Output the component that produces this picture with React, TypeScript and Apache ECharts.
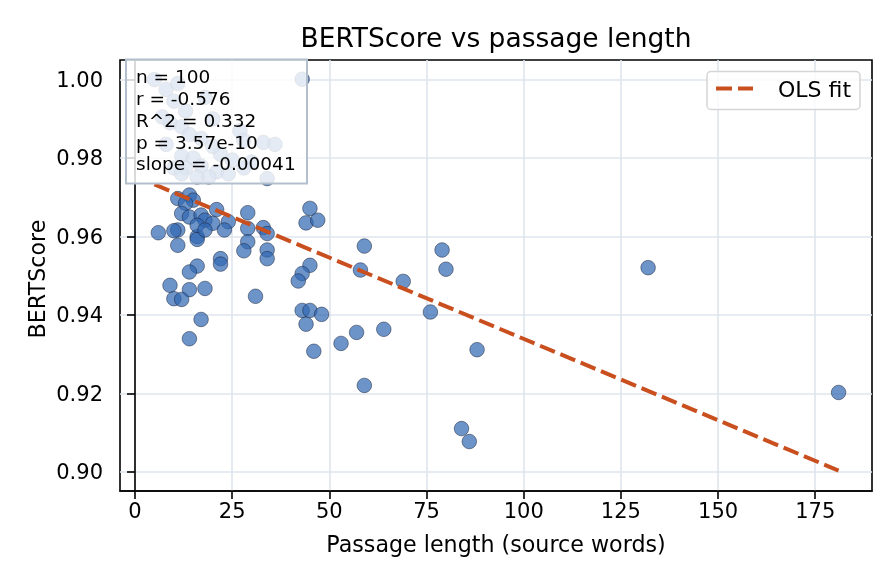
import React, { useEffect, useRef } from "react";
import * as echarts from "echarts";

// Passage length (source words) per item
const lengths = [
  6, 11, 14, 15, 13, 12, 14, 17, 18, 21, 20, 24, 23, 29, 29, 29, 28, 33, 34, 34,
  34, 45, 44, 47, 45, 43, 42, 43, 45, 44, 48, 46, 11, 10, 11, 16, 16, 16, 18, 22,
  22, 16, 14, 9, 14, 18, 10, 12, 31, 17, 14, 59, 58, 69, 53, 57, 64, 59, 79, 80,
  76, 88, 84, 86, 132, 181, 43,
  5, 8, 10, 13, 9, 12, 20, 27, 14, 8, 17, 20, 28, 33, 36, 12, 15, 22, 25, 10,
  13, 17, 21, 28, 12, 16, 19, 34, 24, 30, 7, 18, 11,
];
// BERTScore per item
const scores = [
  0.961, 0.9697, 0.9706, 0.9693, 0.9685, 0.9659, 0.965, 0.9655, 0.9642, 0.9669,
  0.9634, 0.9638, 0.9617, 0.9661, 0.9621, 0.9587, 0.9564, 0.9623, 0.9608, 0.9566,
  0.9544, 0.9672, 0.9635, 0.9642, 0.9527, 0.9506, 0.9487, 0.9412, 0.9412, 0.9377,
  0.9402, 0.9308, 0.9617, 0.9615, 0.9578, 0.96, 0.9593, 0.9629, 0.9617, 0.9544,
  0.953, 0.9525, 0.951, 0.9476, 0.9465, 0.9468, 0.9442, 0.944, 0.9448, 0.9389,
  0.934, 0.9576, 0.9515, 0.9486, 0.9328, 0.9356, 0.9364, 0.9221, 0.9566, 0.9517,
  0.9408, 0.9312, 0.9111, 0.9078, 0.9521, 0.9203, 1.0001,
  1.0, 0.9975, 0.9945, 0.992, 0.989, 0.988, 0.99, 0.987, 0.986, 0.9835,
  0.985, 0.983, 0.9845, 0.984, 0.9835, 0.9805, 0.98, 0.981, 0.9795, 0.9775,
  0.9775, 0.978, 0.9765, 0.9775, 0.976, 0.9752, 0.9752, 0.9748, 0.976, 0.979,
  0.9905, 0.9955, 0.999,
];
// OLS fit end points
const fitX = [5, 181];
const fitY = [0.9733, 0.9004];

const xTicks = [0, 25, 50, 75, 100, 125, 150, 175];
const yTicks = [0.9, 0.92, 0.94, 0.96, 0.98, 1.0];
const statLines = [
  "n = 100",
  "r = -0.576",
  "R^2 = 0.332",
  "p = 3.57e-10",
  "slope = -0.00041",
];
const titleText = "BERTScore vs passage length";
const xName = "Passage length (source words)";
const yName = "BERTScore";
const legendLabel = "OLS fit";

export default function App() {
  const ref = useRef<HTMLDivElement>(null);
  useEffect(() => {
    document.body.style.margin = "0";
    const chart = echarts.init(ref.current!, null, { renderer: "svg" });
    const font = "DejaVu Sans";
    const lineColor = "#c94f1f";
    const gridColor = "#dfe5ee";
    const option: any = {
      animation: false,
      grid: {
        left: 120,
        top: 60,
        right: 24,
        bottom: 93,
        show: true,
        borderColor: "#000",
        borderWidth: 1.6,
        backgroundColor: "transparent",
      },
      xAxis: {
        type: "value",
        min: -3.86,
        max: 189.6,
        axisLine: { show: true, lineStyle: { color: "#000", width: 1.6 } },
        axisTick: {
          show: true,
          customValues: xTicks,
          length: 8,
          lineStyle: { color: "#000", width: 1.6 },
        },
        axisLabel: {
          customValues: xTicks,
          margin: 9,
          fontSize: 21,
          fontFamily: font,
          color: "#000",
        },
        splitLine: { show: true, lineStyle: { color: gridColor, width: 1.6 } },
      },
      yAxis: {
        type: "value",
        min: 0.8952,
        max: 1.005,
        axisLine: { show: true, lineStyle: { color: "#000", width: 1.6 } },
        axisTick: {
          show: true,
          customValues: yTicks,
          length: 8,
          lineStyle: { color: "#000", width: 1.6 },
        },
        axisLabel: {
          customValues: yTicks,
          margin: 17,
          fontSize: 21,
          fontFamily: font,
          color: "#000",
          formatter: (v: number) => v.toFixed(2),
        },
        splitLine: { show: true, lineStyle: { color: gridColor, width: 1.6 } },
      },
      series: [
        {
          type: "scatter",
          data: lengths.map((x, i) => [x, scores[i]]),
          symbolSize: 14.5,
          itemStyle: {
            color: "rgba(48,104,178,0.88)",
            borderColor: "rgba(22,32,55,0.9)",
            borderWidth: 0.7,
          },
          z: 2,
        },
        {
          type: "line",
          name: legendLabel,
          data: fitX.map((x, i) => [x, fitY[i]]),
          symbol: "none",
          lineStyle: { color: lineColor, width: 4, type: [16, 6] },
          z: 3,
        },
      ],
      graphic: [
        {
          type: "text",
          x: 496,
          y: 37,
          z: 100,
          style: {
            text: titleText,
            fontSize: 26.5,
            fontFamily: font,
            fill: "#000",
            align: "center",
            verticalAlign: "middle",
          },
        },
        {
          type: "text",
          x: 496,
          y: 544,
          z: 100,
          style: {
            text: xName,
            fontSize: 22.2,
            fontFamily: font,
            fill: "#000",
            align: "center",
            verticalAlign: "middle",
          },
        },
        {
          type: "text",
          x: 37,
          y: 279,
          rotation: Math.PI / 2,
          z: 100,
          style: {
            text: yName,
            fontSize: 22.2,
            fontFamily: font,
            fill: "#000",
            align: "center",
            verticalAlign: "middle",
          },
        },
        {
          type: "rect",
          z: 100,
          shape: { x: 126, y: 59.5, width: 181, height: 124 },
          style: {
            fill: "rgba(255,255,255,0.82)",
            stroke: "#b3bfcd",
            lineWidth: 2,
          },
        },
        ...statLines.map((t, i) => ({
          type: "text",
          x: 136,
          y: 76.7 + i * 21.8,
          z: 101,
          style: {
            text: t,
            fontSize: 18.5,
            fontFamily: font,
            fill: "#000",
            align: "left",
            verticalAlign: "middle",
          },
        })),
        {
          type: "rect",
          z: 100,
          shape: { x: 707, y: 71.5, width: 153, height: 38, r: 4 },
          style: {
            fill: "rgba(255,255,255,0.82)",
            stroke: "#d5d5d5",
            lineWidth: 1.5,
          },
        },
        {
          type: "line",
          z: 101,
          shape: { x1: 716, y1: 88.5, x2: 753, y2: 88.5 },
          style: { stroke: lineColor, lineWidth: 4, lineDash: [16, 6] },
        },
        {
          type: "text",
          x: 778,
          y: 89.5,
          z: 101,
          style: {
            text: legendLabel,
            fontSize: 22,
            fontFamily: font,
            fill: "#000",
            align: "left",
            verticalAlign: "middle",
          },
        },
      ],
    };
    chart.setOption(option);
    return () => chart.dispose();
  }, []);
  return (
    <div
      ref={ref}
      style={{ position: "fixed", left: 0, top: 0, width: 896, height: 584 }}
    />
  );
}
